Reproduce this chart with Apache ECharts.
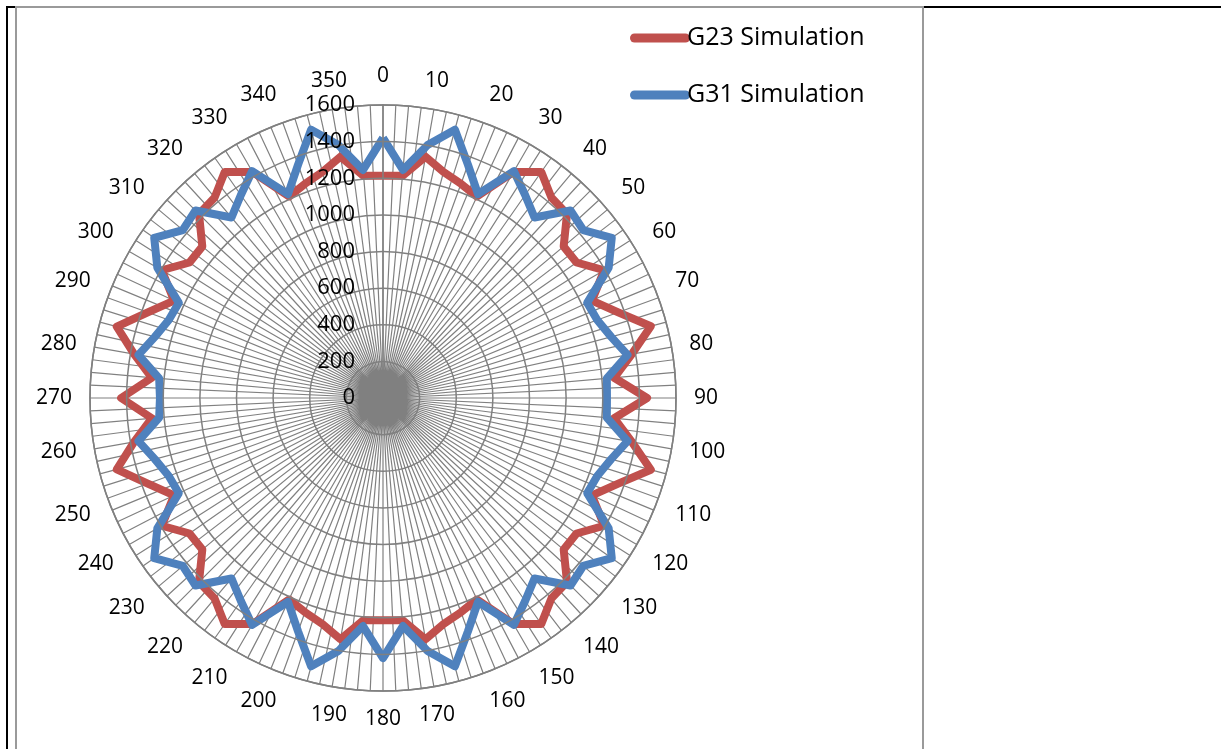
<!DOCTYPE html>
<html>
<head>
<meta charset="utf-8">
<script src="https://cdn.jsdelivr.net/npm/echarts@6/dist/echarts.min.js"></script>
<style>
html,body{margin:0;padding:0;background:#fff;}
#wrap{position:relative;width:1221px;height:749px;overflow:hidden;background:#fff;}
.b{position:absolute;}
#chart{position:absolute;left:0;top:0;width:1221px;height:749px;}
</style>
</head>
<body>
<div id="wrap">
  <div class="b" style="left:6px;top:6px;width:2px;height:743px;background:#000;"></div>
  <div class="b" style="left:6px;top:6px;width:10px;height:2px;background:#000;"></div>
  <div class="b" style="left:922px;top:6px;width:299px;height:2px;background:#000;"></div>
  <div class="b" style="left:15px;top:6px;width:905px;height:760px;border:2px solid #9a9a9a;box-sizing:content-box;"></div>
  <div id="chart"></div>
</div>
<script>
// Angles (degrees) of the data points
const angles = [0,5,10,15,20,25,30,35,40,45,50,55,60,65,70,75,80,85,
  90,95,100,105,110,115,120,125,130,135,140,145,150,155,160,165,170,175,
  180,185,190,195,200,205,210,215,220,225,230,235,240,245,250,255,260,265,
  270,275,280,285,290,295,300,305,310,315,320,325,330,335,340,345,350,355];

const g23 = [1213,1218,1338,1278,1245,1214,1425,1507,1430,1421,1288,1290,1395,1259,1367,1514,1380,1267,
  1442,1267,1380,1514,1367,1259,1395,1290,1288,1421,1430,1507,1425,1214,1245,1278,1338,1218,
  1213,1218,1338,1278,1245,1214,1425,1507,1430,1421,1288,1290,1395,1259,1367,1505,1380,1267,
  1430,1267,1380,1505,1367,1259,1395,1290,1288,1421,1430,1507,1425,1214,1245,1278,1338,1218];

const g31 = [1420,1250,1403,1517,1356,1228,1430,1353,1287,1448,1427,1525,1423,1230,1245,1290,1356,1227,
  1223,1227,1356,1290,1245,1230,1423,1525,1427,1448,1287,1353,1430,1228,1356,1517,1403,1250,
  1420,1250,1403,1517,1356,1228,1430,1353,1287,1448,1427,1525,1423,1230,1245,1290,1356,1227,
  1218,1227,1356,1290,1245,1230,1423,1525,1427,1448,1287,1353,1430,1228,1356,1517,1403,1250];

const seriesNames = ['G23 Simulation', 'G31 Simulation'];
const radiusTicks = {min: 0, max: 1600, interval: 200};

function toPolar(vals) {
  const pts = angles.map((a, i) => [vals[i], a]);
  pts.push([vals[0], 360]);
  return pts;
}

const FONT = "'Open Sans', 'Liberation Sans', sans-serif";
const chart = echarts.init(document.getElementById('chart'), null, {renderer: 'canvas'});
chart.setOption({
  backgroundColor: 'transparent',
  animation: false,
  legend: {
    orient: 'vertical',
    left: 625,
    top: 19,
    itemWidth: 60,
    itemHeight: 9,
    itemGap: 29,
    icon: 'path://M4.5,0H55.5A4.5,4.5,0,0,1,55.5,9H4.5A4.5,4.5,0,0,1,4.5,0Z',
    textStyle: {fontFamily: FONT, fontSize: 25, color: '#000', lineHeight: 28, padding: [0,0,0,-8]},
    data: seriesNames
  },
  polar: {center: [383, 398], radius: 293},
  angleAxis: {
    type: 'value',
    min: 0, max: 360, interval: 2.5,
    startAngle: 90, clockwise: true,
    axisLine: {show: true, lineStyle: {color: '#808080', width: 1.5}},
    axisTick: {show: false},
    splitLine: {show: true, lineStyle: {color: '#808080', width: 1.2}},
    axisLabel: {
      margin: 18,
      fontFamily: FONT, fontSize: 21, color: '#000',
      formatter: v => (v % 10 === 0 && v < 360) ? String(v) : ''
    }
  },
  radiusAxis: {
    type: 'value',
    min: radiusTicks.min, max: radiusTicks.max, interval: radiusTicks.interval,
    axisLine: {show: true, lineStyle: {color: '#808080', width: 1.5}},
    axisTick: {show: false},
    splitLine: {show: true, lineStyle: {color: '#808080', width: 1.5}},
    axisLabel: {margin: 28, fontFamily: FONT, fontSize: 22, color: '#000', formatter: v => String(v)},
    z: 10
  },
  series: [
    {name: seriesNames[0], type: 'line', coordinateSystem: 'polar', data: toPolar(g23),
     symbol: 'none', color: '#C0504D', lineStyle: {width: 8, color: '#C0504D', join: 'round'}},
    {name: seriesNames[1], type: 'line', coordinateSystem: 'polar', data: toPolar(g31),
     symbol: 'none', color: '#4F81BD', lineStyle: {width: 8, color: '#4F81BD', join: 'round'}}
  ]
});
</script>
</body>
</html>
